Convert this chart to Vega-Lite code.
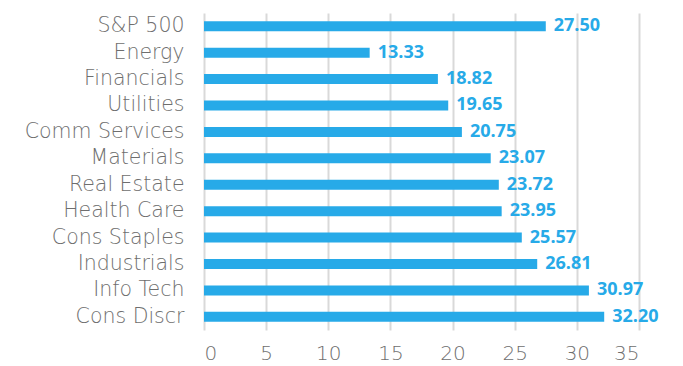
{
  "$schema": "https://vega.github.io/schema/vega-lite/v6.json",
  "width": 435,
  "height": 317,
  "autosize": {"type": "none"},
  "padding": {"left": 204, "top": 13, "right": 44, "bottom": 36},
  "background": "white",
  "config": {"view": {"stroke": null}},
  "data": {
    "values": [
      {"sector": "S&P 500", "pe": 27.50},
      {"sector": "Energy", "pe": 13.33},
      {"sector": "Financials", "pe": 18.82},
      {"sector": "Utilities", "pe": 19.65},
      {"sector": "Comm Services", "pe": 20.75},
      {"sector": "Materials", "pe": 23.07},
      {"sector": "Real Estate", "pe": 23.72},
      {"sector": "Health Care", "pe": 23.95},
      {"sector": "Cons Staples", "pe": 25.57},
      {"sector": "Industrials", "pe": 26.81},
      {"sector": "Info Tech", "pe": 30.97},
      {"sector": "Cons Discr", "pe": 32.20}
    ]
  },
  "encoding": {
    "y": {
      "field": "sector",
      "type": "nominal",
      "sort": null,
      "title": null,
      "axis": {
        "domain": false,
        "ticks": false,
        "labelPadding": 20,
        "labelFont": "DejaVu Sans",
        "labelFontSize": 20.5,
        "labelColor": "#6e6e6e",
        "labelFontWeight": 200
      }
    },
    "x": {
      "field": "pe",
      "type": "quantitative",
      "scale": {"domain": [0, 35], "nice": false},
      "title": null,
      "axis": {
        "values": [0, 5, 10, 15, 20, 25, 30, 35],
        "domain": false,
        "ticks": false,
        "labelPadding": 13,
        "labelFont": "DejaVu Sans",
        "labelFontSize": 20,
        "labelColor": "#6e6e6e",
        "labelFontWeight": 200,
        "gridColor": "#d9d9d9",
        "gridWidth": 2
      }
    }
  },
  "layer": [
    {"mark": {"type": "bar", "color": "#27aae8", "size": 10}},
    {
      "mark": {
        "type": "text",
        "align": "left",
        "baseline": "middle",
        "dx": 8,
        "color": "#27aae8",
        "font": "Open Sans",
        "fontSize": 18,
        "fontWeight": "bold"
      },
      "encoding": {"text": {"field": "pe", "type": "quantitative", "format": ".2f"}}
    }
  ]
}
